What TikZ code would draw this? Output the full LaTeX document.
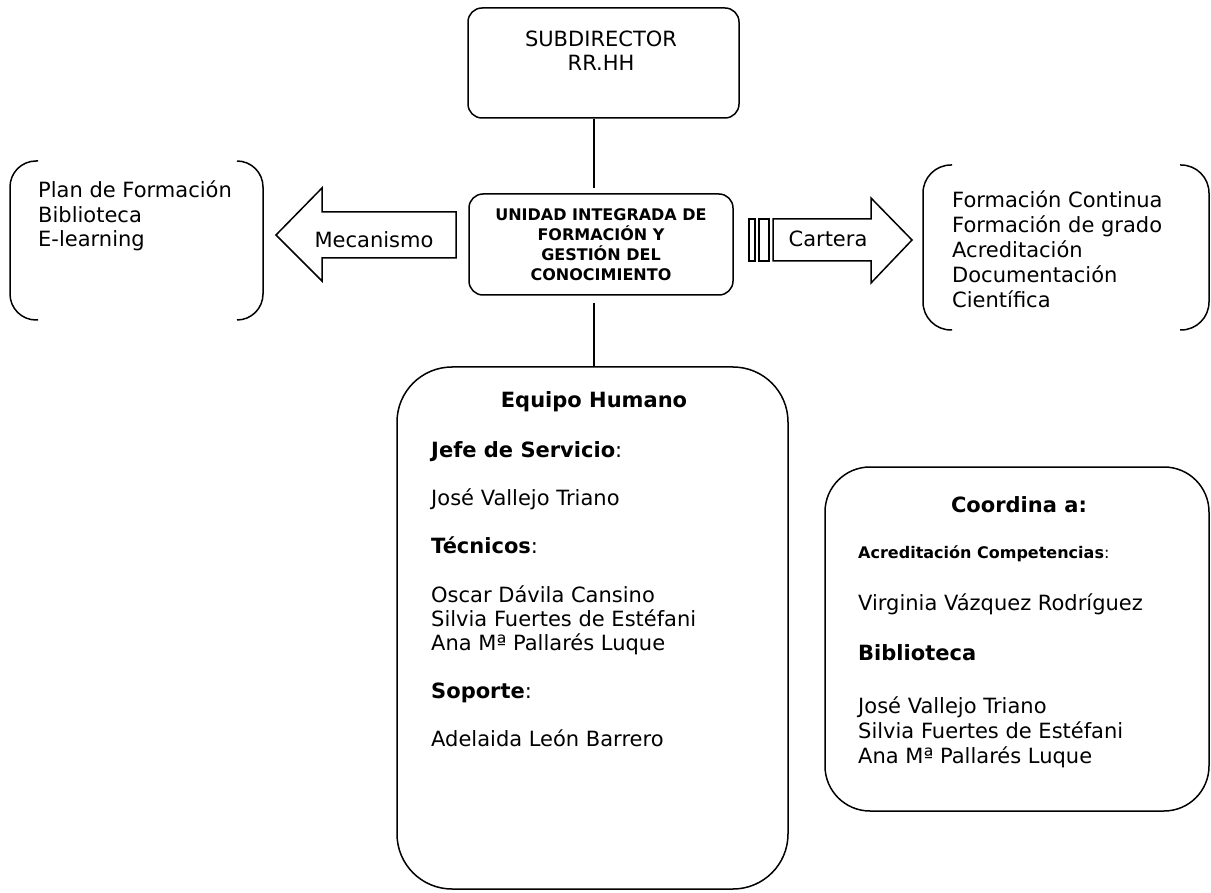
\documentclass[tikz,border=0pt]{standalone}
\usepackage{fontspec}
\setmainfont{DejaVu Sans}
\begin{document}
\begin{tikzpicture}
      [
      x=1pt, y=-1pt,
      caja/.style={draw,rectangle,line width=1.5pt,inner sep=0pt,rounded corners=14pt},
      curva/.style={draw,line width=1.5pt,rounded corners=26pt},
      flecha/.style={draw,line width=1.5pt,line join=miter},
      texto/.style={inner sep=0pt,anchor=base west,font=\fontsize{21}{24.5}\selectfont},
      centro/.style={texto,anchor=base},
      negrita/.style={font=\bfseries\fontsize{21}{24.5}\selectfont}
      ]
      \useasboundingbox (0,0) rectangle (1211,893);
      % cajas
      \node (sub) at (603.5,63) [caja,minimum width=271pt,minimum height=110pt] {};
      \node (unidad) at (601,244.5) [caja,minimum width=264pt,minimum height=101pt,align=center,font=\bfseries\fontsize{16}{20}\selectfont] {UNIDAD INTEGRADA DE\\FORMACIÓN Y\\GESTIÓN DEL\\CONOCIMIENTO};
      \node (equipo) at (592.5,628) [caja,rounded corners=55pt,minimum width=391pt,minimum height=522pt] {};
      \node (coordina) at (1017,639) [caja,rounded corners=45pt,minimum width=384pt,minimum height=344pt] {};
      \node (subt) at (601,47) [centro] {SUBDIRECTOR};
      \node (rrhh) at (601,71) [centro] {RR.HH};
      % lineas
      \coordinate (eje) at (594,0);
      \draw [line width=1.5pt, shorten >=5pt] (sub.south -| eje) to (unidad.north -| eje);
      \draw [line width=1.5pt, shorten <=7pt] (unidad.south -| eje) to (equipo.north -| eje);
      % mecanismo
      \draw [curva] (38,161) -- (10,161) -- (10,320) -- (38,320);
      \draw [curva] (237,161) -- (263,161) -- (263,320) -- (237,320);
      \node (plan) at (38,198) [texto] {Plan de Formación};
      \node (biblio) at (38,222.5) [texto] {Biblioteca};
      \node (elearn) at (38,247) [texto] {E-learning};
      \draw [flecha] (456,212) -- (322,212) -- (322,188) -- (276,235) -- (322,281) -- (322,258) -- (456,258) -- cycle;
      \node (mec) at (374,248) [centro] {Mecanismo};
      % cartera
      \draw [flecha] (749,219) rectangle (755,261);
      \draw [flecha] (759,219) rectangle (769,261);
      \draw [flecha] (773,219) -- (871,219) -- (871,198) -- (912,240) -- (871,283) -- (871,261) -- (773,261) -- cycle;
      \node (cart) at (828,247) [centro] {Cartera};
      \draw [curva,rounded corners=28pt] (952,165) -- (923,165) -- (923,330) -- (952,330);
      \draw [curva,rounded corners=28pt] (1180,165) -- (1209,165) -- (1209,330) -- (1180,330);
      \node (fc) at (952,208) [texto] {Formación Continua};
      \node (fg) at (952,233) [texto] {Formación de grado};
      \node (acr) at (952,258) [texto] {Acreditación};
      \node (doc) at (952,283) [texto] {Documentación};
      \node (cien) at (952,308) [texto] {Científica};
      % equipo humano
      \node (eqt) at (594,408) [centro,negrita] {Equipo Humano};
      \node (jefe) at (431,457) [texto] {\textbf{Jefe de Servicio}:};
      \node (jefe1) at (431,505) [texto] {José Vallejo Triano};
      \node (tec) at (431,553) [texto] {\textbf{Técnicos}:};
      \node (tec1) at (431,602) [texto] {Oscar Dávila Cansino};
      \node (tec2) at (431,626) [texto] {Silvia Fuertes de Estéfani};
      \node (tec3) at (431,650) [texto] {Ana Mª Pallarés Luque};
      \node (sop) at (431,698) [texto] {\textbf{Soporte}:};
      \node (sop1) at (431,746) [texto] {Adelaida León Barrero};
      % coordina
      \node (coot) at (1019,512) [centro,negrita] {Coordina a:};
      \node (comp) at (858,558) [texto,font=\fontsize{16}{20}\selectfont] {\textbf{Acreditación Competencias}:};
      \node (comp1) at (858,610) [texto] {Virginia Vázquez Rodríguez};
      \node (bib) at (858,660) [texto,negrita] {Biblioteca};
      \node (bib1) at (858,713) [texto] {José Vallejo Triano};
      \node (bib2) at (858,738) [texto] {Silvia Fuertes de Estéfani};
      \node (bib3) at (858,763) [texto] {Ana Mª Pallarés Luque};
    \end{tikzpicture}
\end{document}
